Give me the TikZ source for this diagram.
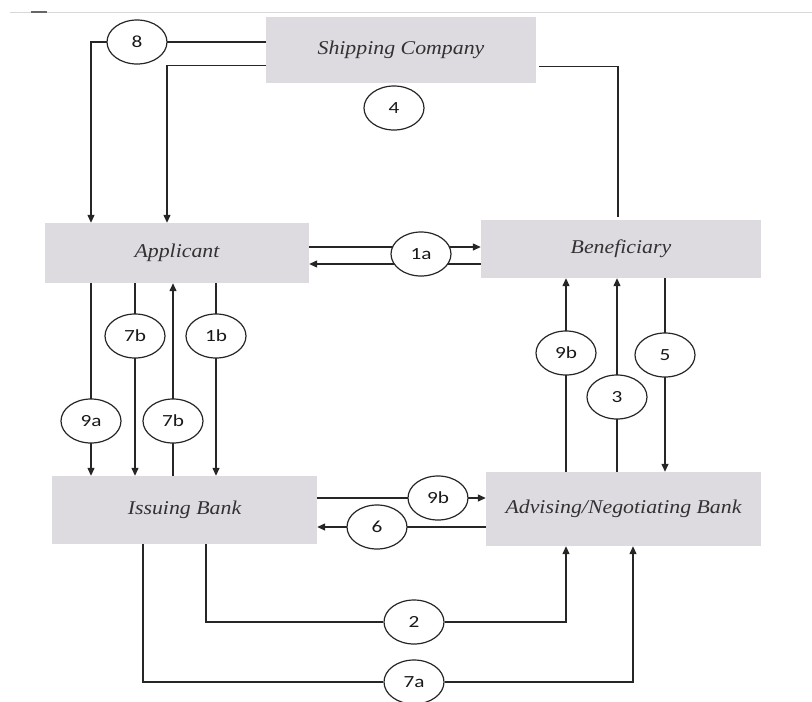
\documentclass[tikz,border=0pt]{standalone}
\usepackage{fontspec}
\setmainfont{Liberation Serif}
\newfontfamily\boxfont{Liberation Serif}[FakeStretch=1.12]
\newfontfamily\lblfont{Carlito}[FakeStretch=1.25]
\usetikzlibrary{shapes.geometric,arrows.meta,calc}
\pgfdeclarelayer{bg}
\pgfsetlayers{bg,main}
\definecolor{boxgray}{RGB}{221,218,224}
\definecolor{txtgray}{RGB}{50,50,50}
\definecolor{rulegray}{RGB}{215,215,215}
\tikzset{
  party/.style={fill=boxgray, draw=none, inner sep=0pt,
    font=\boxfont\itshape\fontsize{19.5}{22}\selectfont, text=txtgray},
  stepno/.style={ellipse, draw=black!85, line width=1.2pt, fill=white,
    minimum width=60pt, minimum height=44pt, inner sep=0pt,
    font=\lblfont\fontsize{17}{19}\selectfont, text=black!90},
  conn/.style={draw=black!85, line width=1.3pt},
  arr/.style={conn, -{Triangle[length=8pt,width=7pt]}}
}
\begin{document}
\begin{tikzpicture}[x=1pt,y=-1pt]
\useasboundingbox (0,0) rectangle (812,702);
% screenshot top rule
\draw[rulegray, line width=1pt] (10,12) -- (812,12);
\draw[black!60, line width=1.2pt] (31,12) -- (47,12);

% parties
\node[party, minimum width=270pt, minimum height=66pt] (ship) at (401,50) {Shipping Company};
\node[party, minimum width=264pt, minimum height=60pt] (app) at (177,253) {Applicant};
\node[party, minimum width=280pt, minimum height=58pt] (ben) at (621,249) {Beneficiary};
\node[party, minimum width=265pt, minimum height=68pt] (iss) at (184.5,510) {Issuing Bank};
\node[party, minimum width=275pt, minimum height=74pt] (adv) at (623.5,509) {Advising/Negotiating Bank};

% step markers
\node[stepno] (c8) at (137,42) {8};
\node[stepno] (c4) at (394,108) {4};
\node[stepno] (c1a) at (421,254) {1a};
\node[stepno] (c9a) at (91,421) {9a};
\node[stepno] (c7bd) at (135,336) {7b};
\node[stepno] (c7bu) at (173,421) {7b};
\node[stepno] (c1b) at (216,336) {1b};
\node[stepno] (c9bu) at (566,353) {9b};
\node[stepno] (c3) at (617,397) {3};
\node[stepno] (c5) at (665,355) {5};
\node[stepno] (c9bh) at (438,498) {9b};
\node[stepno] (c6) at (377,527) {6};
\node[stepno] (c2) at (414,622) {2};
\node[stepno] (c7a) at (414,682) {7a};

% helper columns / rows
\coordinate (k167) at (167,0);
\coordinate (k618) at (618,0);
\coordinate (k206) at (206,0);
\coordinate (k143) at (143,0);
\coordinate (k633) at (633,0);
\coordinate (s2) at ($(ship.south west)+(0,-18)$);
\coordinate (s3) at ($(ship.south east)+(3,-17)$);
\coordinate (aup) at ($(app.east)+(0,-6)$);
\coordinate (alo) at ($(app.east)+(0,11)$);

\begin{pgfonlayer}{bg}
% shipping company
\draw[arr] (ship.west |- c8) -| (app.north -| c9a);
\draw[arr] (s2) -| (app.north -| k167);
\draw[conn] (s3) -| ($(ben.north -| k618)+(0,-3)$);
% applicant <-> beneficiary
\draw[arr] (aup) -- (ben.west |- aup);
\draw[arr] (ben.west |- alo) -- (alo);
% applicant <-> issuing bank
\draw[arr] (app.south -| c9a) -- (iss.north -| c9a);
\draw[arr] (app.south -| c7bd) -- (iss.north -| c7bd);
\draw[arr] (iss.north -| c7bu) -- (app.south -| c7bu);
\draw[arr] (app.south -| c1b) -- (iss.north -| c1b);
% beneficiary <-> advising bank
\draw[arr] (adv.north -| c9bu) -- (ben.south -| c9bu);
\draw[arr] (adv.north -| c3) -- (ben.south -| c3);
\draw[arr] (ben.south -| c5) -- (adv.north -| c5);
% issuing <-> advising
\draw[arr] (iss.east |- c9bh) -- (adv.west |- c9bh);
\draw[arr] (adv.west |- c6) -- (iss.east |- c6);
\draw[arr] (iss.south -| k206) |- (c2) -| (adv.south -| c9bu);
\draw[arr] (iss.south -| k143) |- (c7a) -| (adv.south -| k633);
\end{pgfonlayer}
\end{tikzpicture}
\end{document}
